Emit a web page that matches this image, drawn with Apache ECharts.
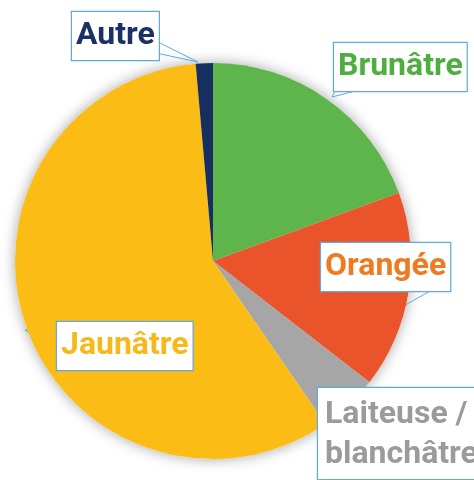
<!DOCTYPE html>
<html>
<head>
<meta charset="utf-8">
<script src="https://cdn.jsdelivr.net/npm/echarts@6/dist/echarts.min.js"></script>
<style>
html,body{margin:0;padding:0;background:#fff;}
#chart{width:474px;height:480px;}
</style>
</head>
<body>
<div id="chart"></div>
<script>
// Categories in clockwise order from 12 o'clock
const categories = ['Brunâtre', 'Orangée', 'Laiteuse /\nblanchâtre', 'Jaunâtre', 'Autre'];
// Shares (%)
const values = [19.4, 16.1, 4.9, 58.2, 1.4];
// Slice colours
const sliceColors = ['#5db54b', '#e9542b', '#a6a6a6', '#fbbd15', '#15305f'];
// Label text colours
const labelColors = ['#4fae3f', '#ee7a22', '#9b9b9b', '#f7b81a', '#1b2f68'];
// Label box top-left positions (px)
const labelPos = [[334, 43], [321, 243], [318, 388], [57, 322], [72, 12]];
// Callout pointer points (box edge, tip, box edge)
const pointers = [
  [[335, 91], [332, 97], [355, 91]],
  [[398, 291], [400, 308], [430, 291]],
  [[343, 388], [340, 383], [356, 388]],
  [[57, 328], [25, 330], [57, 350]],
  [[156, 41], [198, 62], [156, 53]]
];

const FONT = "Roboto, 'Liberation Sans', sans-serif";
const BORDER = '#62a9dc';

const chart = echarts.init(document.getElementById('chart'));

const data = categories.map((c, i) => ({
  name: c,
  value: values[i],
  itemStyle: { color: sliceColors[i] },
  label: {
    color: labelColors[i],
    padding: i === 2 ? [7, 8, 4, 7] : [4, 4, 4, 4]
  }
}));

chart.setOption({
  animation: false,
  backgroundColor: '#ffffff',
  series: [
    {
      type: 'pie',
      silent: true,
      center: [213, 261],
      radius: 198,
      label: { show: false },
      labelLine: { show: false },
      itemStyle: {
        color: '#ffffff',
        shadowBlur: 14,
        shadowColor: 'rgba(0,0,0,0.35)'
      },
      data: [{ name: '', value: values.reduce((a, b) => a + b, 0) }],
      z: 1
    },
    {
      type: 'pie',
      center: [213, 261],
      radius: 198,
      startAngle: 90,
      clockwise: true,
      avoidLabelOverlap: false,
      z: 2,
      itemStyle: { borderWidth: 0 },
      label: {
        show: true,
        position: 'outside',
        formatter: '{b}',
        fontFamily: FONT,
        fontWeight: 'bold',
        fontSize: 32,
        lineHeight: 40,
        backgroundColor: '#ffffff',
        borderColor: BORDER,
        borderWidth: 1.2,
        align: 'left'
      },
      labelLine: {
        show: true,
        length: 10,
        length2: 10,
        lineStyle: { color: BORDER, width: 1 }
      },
      labelLayout: function (params) {
        const i = params.dataIndex;
        const p = labelPos[i];
        return {
          x: p[0], y: p[1], align: 'left', verticalAlign: 'top',
          labelLinePoints: pointers[i]
        };
      },
      data: data
    }
  ]
});
</script>
</body>
</html>
